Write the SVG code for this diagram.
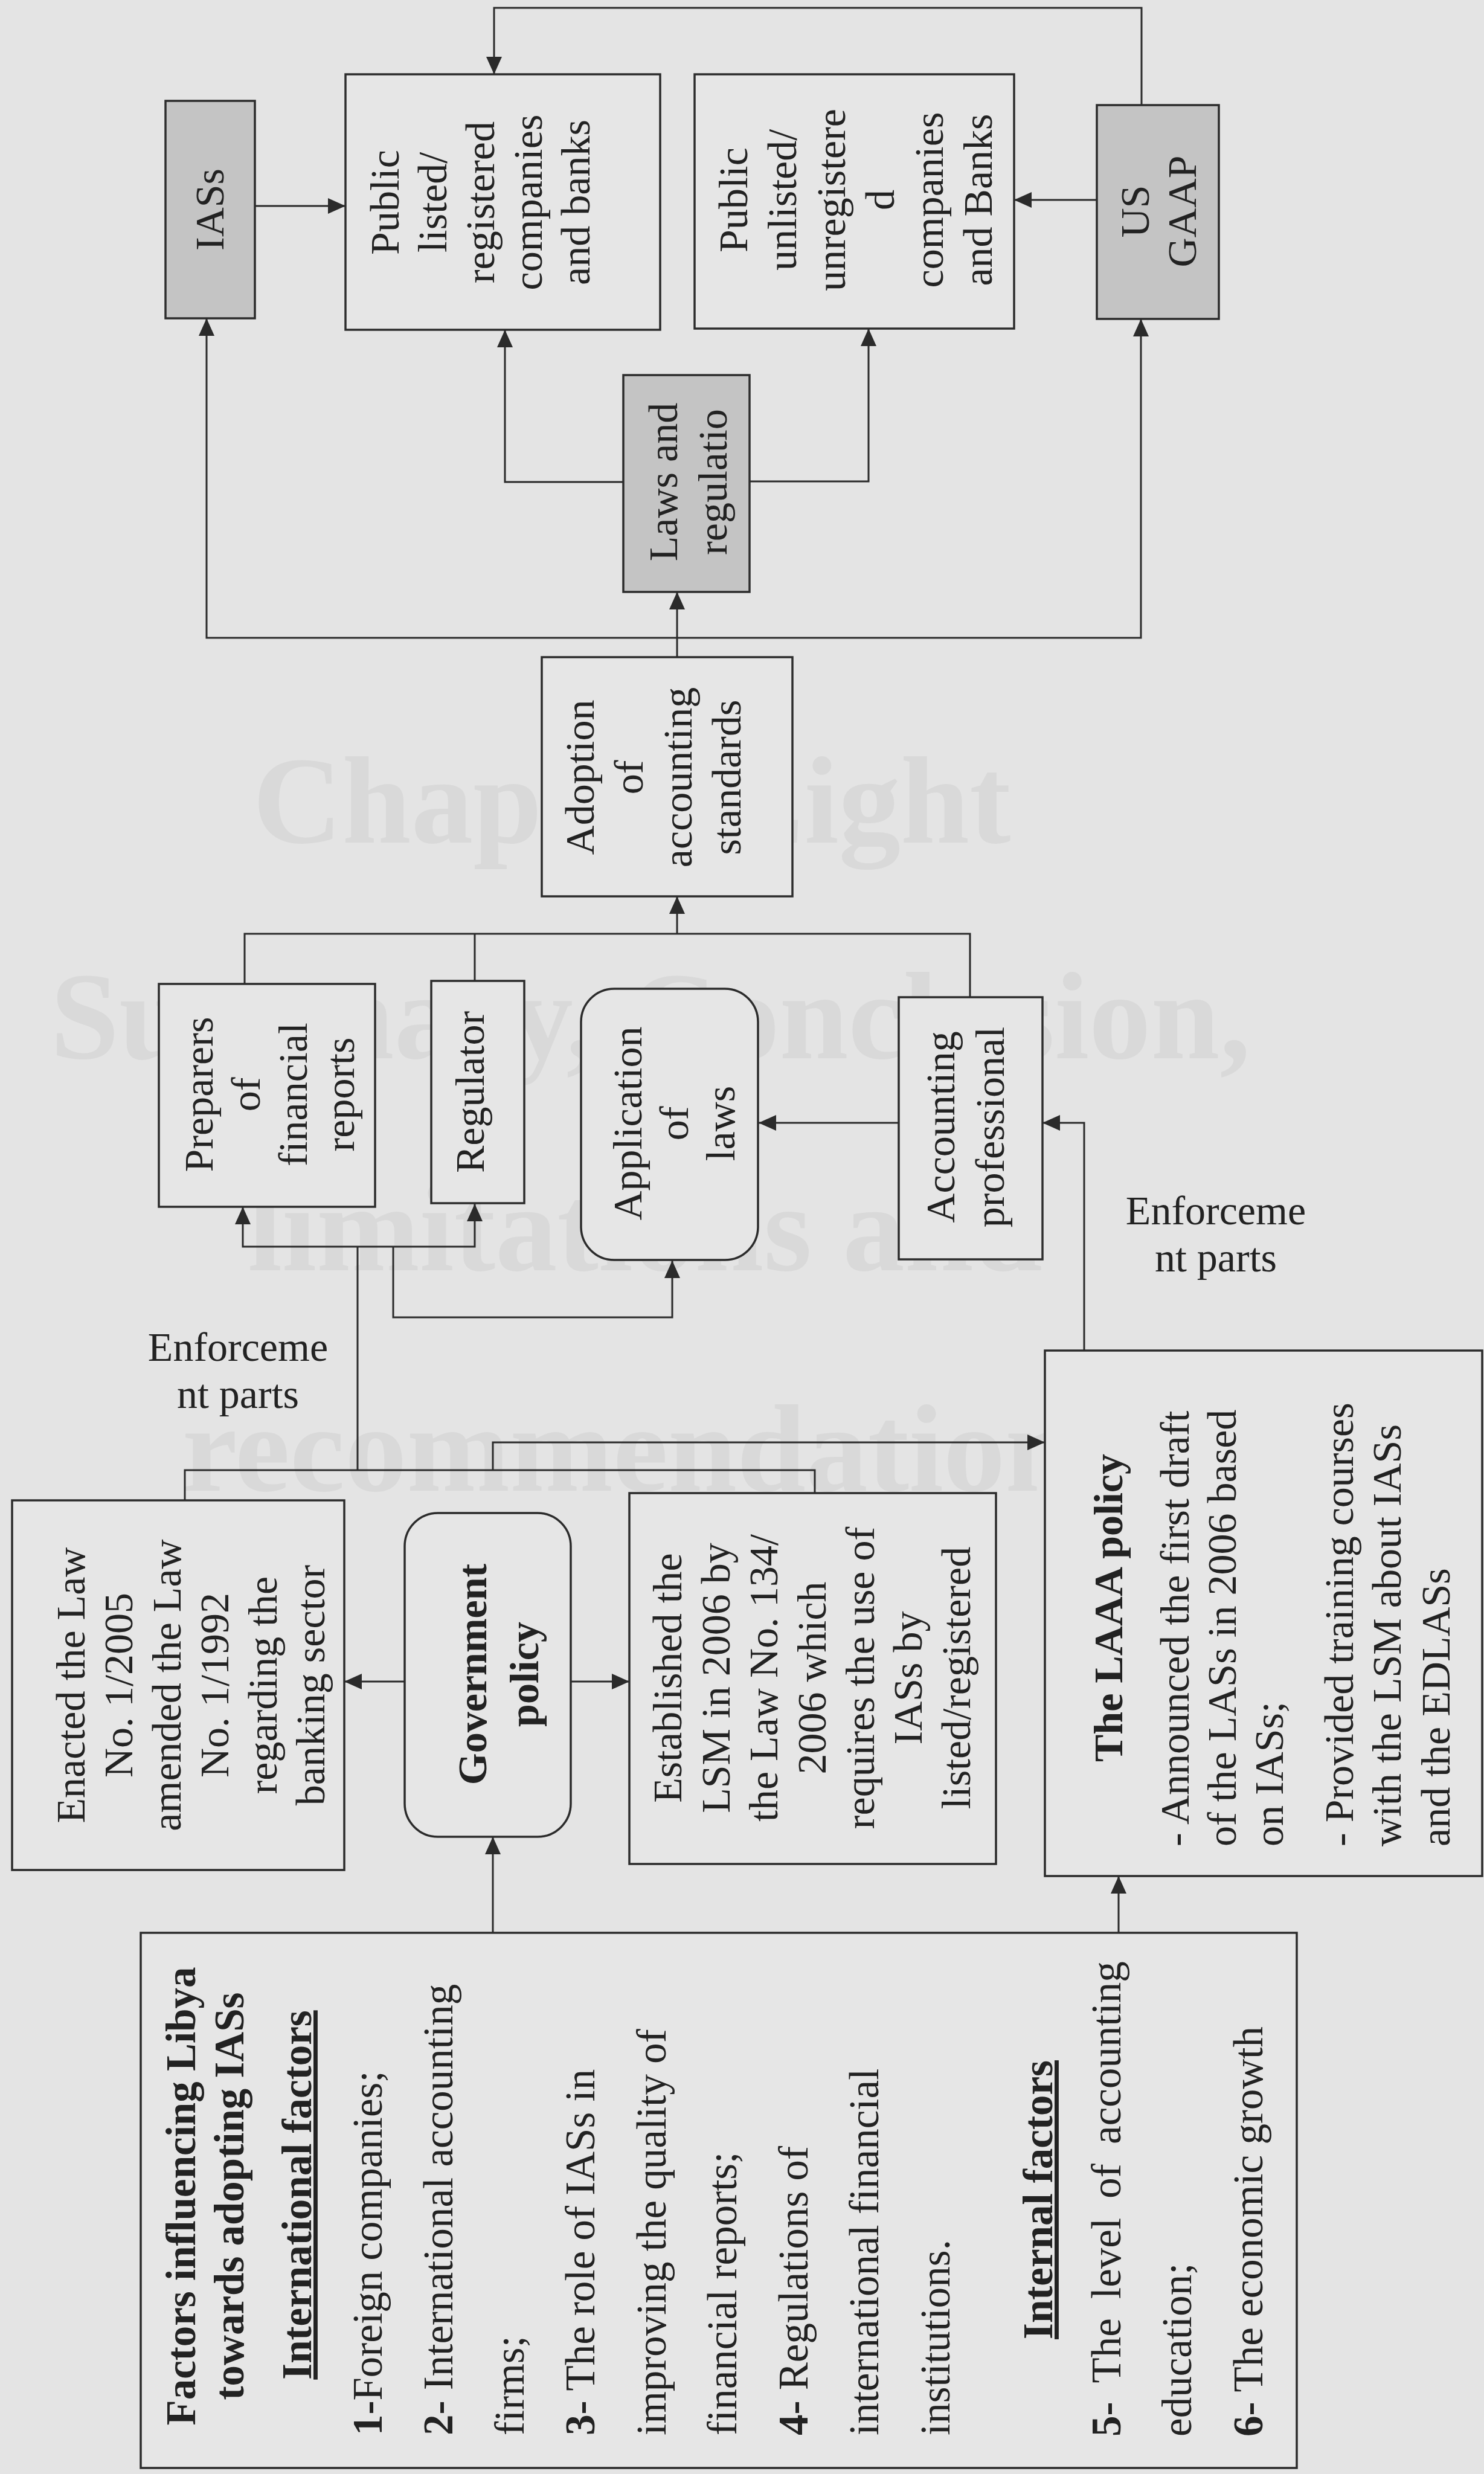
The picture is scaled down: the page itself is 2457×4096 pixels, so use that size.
<svg xmlns="http://www.w3.org/2000/svg" width="2457" height="4096" viewBox="0 0 2457 4096">
<defs>
<style>
.bx{fill:#e6e6e6;stroke:#2b2b2b;stroke-width:3.5}
.gy{fill:#c4c4c4;stroke:#2b2b2b;stroke-width:3.5}
.t{font-family:"Liberation Serif","Times New Roman",serif;font-size:68px;fill:#222}
.f{font-size:69px}
.b{font-weight:bold}
.u{text-decoration:underline}
.c{stroke:#2b2b2b;stroke-width:3;fill:none}
.a{marker-end:url(#ah)}
.wm{font-family:"Liberation Serif","Times New Roman",serif;font-weight:bold;font-size:205px;fill:#d9d9d9}
</style>
<marker id="ah" markerUnits="userSpaceOnUse" markerWidth="30" markerHeight="26" refX="29" refY="13" orient="auto">
<path d="M0,0 L29,13 L0,26 z" fill="#2b2b2b"/>
</marker>
</defs>
<rect x="0" y="0" width="2457" height="4096" fill="#e4e4e4"/>
<g id="watermark" text-anchor="middle">
<text class="wm" x="1046" y="1395">Chapter Eight</text>
<text class="wm" x="1077" y="1752">Summary, Conclusion,</text>
<text class="wm" x="1068" y="2103">limitations and</text>
<text class="wm" x="1080" y="2468">recommendations</text>
</g>
<g id="connectors">
<path class="c a" d="M1890,174 V13 H818 V123"/>
<path class="c a" d="M422,341 H572"/>
<path class="c a" d="M1816,331 H1679"/>
<path class="c a" d="M1032,798 H836 V546"/>
<path class="c a" d="M1241,797 H1438 V544"/>
<path class="c a" d="M1121,1088 V980"/>
<path class="c a" d="M1121,1056 H342 V527"/>
<path class="c a" d="M1121,1056 H1889 V528"/>
<path class="c" d="M405,1629 V1546 H1606 V1651"/>
<path class="c" d="M786,1624 V1546"/>
<path class="c a" d="M1121,1546 V1484"/>
<path class="c" d="M592,2434 V2064"/>
<path class="c a" d="M592,2064 H402 V1998"/>
<path class="c a" d="M592,2064 H786 V1993"/>
<path class="c a" d="M651,2064 V2181 H1113 V2087"/>
<path class="c" d="M306,2484 V2434 H1349 V2472"/>
<path class="c a" d="M816,2434 V2388 H1730"/>
<path class="c a" d="M670,2784 H570"/>
<path class="c a" d="M945,2784 H1042"/>
<path class="c a" d="M816,3200 V3041"/>
<path class="c a" d="M1852,3200 V3106"/>
<path class="c a" d="M1795,2236 V1859 H1726"/>
<path class="c a" d="M1488,1859 H1256"/>
</g>
<g id="ias">
<rect class="gy" x="274" y="167" width="148" height="360"/>
<text class="t" text-anchor="middle" transform="translate(370,347) rotate(-90)">IASs</text>
</g>
<g id="public-listed" text-anchor="middle">
<rect class="bx" x="572" y="123" width="521" height="423"/>
<text class="t" transform="translate(660,335) rotate(-90)">Public</text>
<text class="t" transform="translate(739,335) rotate(-90)">listed/</text>
<text class="t" transform="translate(818,335) rotate(-90)">registered</text>
<text class="t" transform="translate(897,335) rotate(-90)">companies</text>
<text class="t" transform="translate(976,335) rotate(-90)">and banks</text>
</g>
<g id="public-unlisted" text-anchor="middle">
<rect class="bx" x="1150" y="123" width="529" height="421"/>
<text class="t" transform="translate(1237,331) rotate(-90)">Public</text>
<text class="t" transform="translate(1318,331) rotate(-90)">unlisted/</text>
<text class="t" transform="translate(1399,331) rotate(-90)">unregistere</text>
<text class="t" transform="translate(1480,331) rotate(-90)">d</text>
<text class="t" transform="translate(1561,331) rotate(-90)">companies</text>
<text class="t" transform="translate(1642,331) rotate(-90)">and Banks</text>
</g>
<g id="us-gaap" text-anchor="middle">
<rect class="gy" x="1816" y="174" width="202" height="354"/>
<text class="t" transform="translate(1902,350) rotate(-90)">US</text>
<text class="t" transform="translate(1980,350) rotate(-90)">GAAP</text>
</g>
<g id="laws" text-anchor="middle">
<rect class="gy" x="1032" y="621" width="209" height="359"/>
<text class="t" transform="translate(1121,798) rotate(-90)">Laws and</text>
<text class="t" transform="translate(1203,798) rotate(-90)">regulatio</text>
</g>
<g id="adoption" text-anchor="middle">
<rect class="bx" x="897" y="1088" width="415" height="396"/>
<text class="t" transform="translate(983,1287) rotate(-90)">Adoption</text>
<text class="t" transform="translate(1064,1287) rotate(-90)">of</text>
<text class="t" transform="translate(1145,1287) rotate(-90)">accounting</text>
<text class="t" transform="translate(1226,1287) rotate(-90)">standards</text>
</g>
<g id="preparers" text-anchor="middle">
<rect class="bx" x="263" y="1629" width="358" height="369"/>
<text class="t" transform="translate(352,1812) rotate(-90)">Preparers</text>
<text class="t" transform="translate(430,1812) rotate(-90)">of</text>
<text class="t" transform="translate(508,1812) rotate(-90)">financial</text>
<text class="t" transform="translate(586,1812) rotate(-90)">reports</text>
</g>
<g id="regulator" text-anchor="middle">
<rect class="bx" x="714" y="1624" width="154" height="368"/>
<text class="t" transform="translate(801,1808) rotate(-90)">Regulator</text>
</g>
<g id="application" text-anchor="middle">
<rect class="bx" x="962" y="1637" width="293" height="449" rx="55" ry="55"/>
<text class="t" transform="translate(1062,1860) rotate(-90)">Application</text>
<text class="t" transform="translate(1139,1860) rotate(-90)">of</text>
<text class="t" transform="translate(1216,1860) rotate(-90)">laws</text>
</g>
<g id="accounting-professional" text-anchor="middle">
<rect class="bx" x="1488" y="1651" width="238" height="434"/>
<text class="t" transform="translate(1580,1866) rotate(-90)">Accounting</text>
<text class="t" transform="translate(1662,1866) rotate(-90)">professional</text>
</g>
<g id="label-enforcement-1" text-anchor="middle">
<text class="t" x="394" y="2253">Enforceme</text>
<text class="t" x="394" y="2331">nt parts</text>
</g>
<g id="label-enforcement-2" text-anchor="middle">
<text class="t" x="2013" y="2027">Enforceme</text>
<text class="t" x="2013" y="2105">nt parts</text>
</g>
<g id="enacted" text-anchor="middle">
<rect class="bx" x="20" y="2484" width="550" height="612"/>
<text class="t" transform="translate(140,2790) rotate(-90)">Enacted the Law</text>
<text class="t" transform="translate(219,2790) rotate(-90)">No. 1/2005</text>
<text class="t" transform="translate(299,2790) rotate(-90)">amended the Law</text>
<text class="t" transform="translate(378,2790) rotate(-90)">No. 1/1992</text>
<text class="t" transform="translate(458,2790) rotate(-90)">regarding the</text>
<text class="t" transform="translate(537,2790) rotate(-90)">banking sector</text>
</g>
<g id="government-policy" text-anchor="middle">
<rect class="bx" x="670" y="2505" width="275" height="536" rx="55" ry="55"/>
<text class="t b" transform="translate(805,2772) rotate(-90)">Government</text>
<text class="t b" transform="translate(891,2772) rotate(-90)">policy</text>
</g>
<g id="established" text-anchor="middle">
<rect class="bx" x="1042" y="2472" width="607" height="614"/>
<text class="t" transform="translate(1128,2778) rotate(-90)">Established the</text>
<text class="t" transform="translate(1208,2778) rotate(-90)">LSM in 2006 by</text>
<text class="t" transform="translate(1287,2778) rotate(-90)">the Law No. 134/</text>
<text class="t" transform="translate(1367,2778) rotate(-90)">2006 which</text>
<text class="t" transform="translate(1447,2778) rotate(-90)">requires the use of</text>
<text class="t" transform="translate(1526,2778) rotate(-90)">IASs by</text>
<text class="t" transform="translate(1606,2778) rotate(-90)">listed/registered</text>
</g>
<g id="laaa-policy">
<rect class="bx" x="1730" y="2236" width="724" height="870"/>
<text class="t b" text-anchor="middle" transform="translate(1858,2662) rotate(-90)">The LAAA policy</text>
<text class="t" transform="translate(1968,3057) rotate(-90)">- Announced the first draft</text>
<text class="t" transform="translate(2046,3057) rotate(-90)">of the LASs in 2006 based</text>
<text class="t" transform="translate(2124,3057) rotate(-90)">on IASs;</text>
<text class="t" transform="translate(2240,3057) rotate(-90)">- Provided training courses</text>
<text class="t" transform="translate(2319,3057) rotate(-90)">with the LSM about IASs</text>
<text class="t" transform="translate(2400,3057) rotate(-90)">and the EDLASs</text>
</g>
<g id="factors">
<rect class="bx" x="233" y="3200" width="1914" height="886"/>
<text class="t f b" text-anchor="middle" transform="translate(323,3636) rotate(-90)">Factors influencing Libya</text>
<text class="t f b" text-anchor="middle" transform="translate(403,3636) rotate(-90)">towards adopting IASs</text>
<text class="t f b u" text-anchor="middle" transform="translate(515,3634) rotate(-90)">International factors</text>
<text class="t f" transform="translate(632,4032) rotate(-90)"><tspan class="b">1-</tspan>Foreign companies;</text>
<text class="t f" transform="translate(749,4032) rotate(-90)"><tspan class="b">2-</tspan> International accounting</text>
<text class="t f" transform="translate(867,4032) rotate(-90)">firms;</text>
<text class="t f" transform="translate(984,4032) rotate(-90)"><tspan class="b">3-</tspan> The role of IASs in</text>
<text class="t f" transform="translate(1102,4032) rotate(-90)">improving the quality of</text>
<text class="t f" transform="translate(1219,4032) rotate(-90)">financial reports;</text>
<text class="t f" transform="translate(1337,4032) rotate(-90)"><tspan class="b">4-</tspan> Regulations of</text>
<text class="t f" transform="translate(1454,4032) rotate(-90)">international financial</text>
<text class="t f" transform="translate(1572,4032) rotate(-90)">institutions.</text>
<text class="t f b u" text-anchor="middle" transform="translate(1742,3642) rotate(-90)">Internal factors</text>
<text class="t f" word-spacing="15" transform="translate(1855,4034) rotate(-90)"><tspan class="b">5-</tspan> The level of accounting</text>
<text class="t f" transform="translate(1972,4034) rotate(-90)">education;</text>
<text class="t f" transform="translate(2090,4034) rotate(-90)"><tspan class="b">6-</tspan> The economic growth</text>
</g>
</svg>
